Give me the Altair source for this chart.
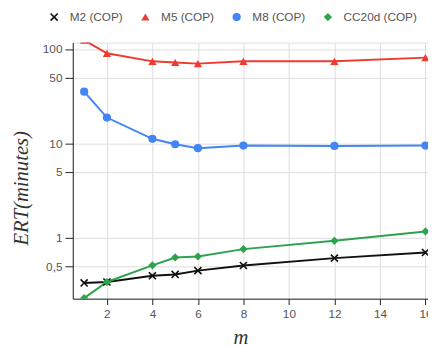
import altair as alt
import pandas as pd

m_values = [1, 2, 4, 5, 6, 8, 12, 16]
series_names = ["M2 (COP)", "M5 (COP)", "M8 (COP)", "CC20d (COP)"]
m2 = [0.333, 0.341, 0.397, 0.41, 0.45, 0.51, 0.61, 0.70]
m5 = [124, 90, 74, 72, 70, 74, 74, 81]
m8 = [35.3, 18.8, 11.2, 9.8, 8.9, 9.5, 9.4, 9.5]
cc20d = [0.23, 0.341, 0.512, 0.62, 0.635, 0.76, 0.93, 1.17]
x_ticks = [2, 4, 6, 8, 10, 12, 14, 16]
y_ticks = [0.5, 1, 5, 10, 50, 100]

rows = []
for name, vals in zip(series_names, [m2, m5, m8, cc20d]):
    for m, v in zip(m_values, vals):
        rows.append({"m": m, "ERT": v, "series": name})
df = pd.DataFrame(rows)

colors = ["#111111", "#ee3a30", "#4285f4", "#2ea34f"]
xshape = "M-1,-0.72L-0.72,-1L0,-0.28L0.72,-1L1,-0.72L0.28,0L1,0.72L0.72,1L0,0.28L-0.72,1L-1,0.72L-0.28,0Z"
shapes = [xshape, "triangle-up", "circle", "diamond"]

color_scale = alt.Scale(domain=series_names, range=colors)
shape_scale = alt.Scale(domain=series_names, range=shapes)
size_scale = alt.Scale(domain=series_names, range=[70, 70, 80, 55])

x_enc = alt.X("m:Q", scale=alt.Scale(domain=[0.5, 16.5], range=[0, 371], nice=False, zero=False),
              axis=alt.Axis(values=x_ticks, title="m", titleFont="Liberation Serif",
                            titleFontStyle="italic", titleFontWeight="normal", titleFontSize=21,
                            titleColor="#333", titleX=171, titleY=40, titleBaseline="middle",
                            labelFont="Liberation Sans", labelFontSize=12, labelColor="#555",
                            domainColor="#222", tickColor="#222", tickSize=6, labelPadding=4,
                            gridColor="#dddddd", labelFlush=False))
y_enc = alt.Y("ERT:Q", scale=alt.Scale(type="log", domain=[0.227, 117], nice=False),
              axis=alt.Axis(values=y_ticks, title="ERT(minutes)", titleFont="Liberation Serif",
                            titleFontStyle="italic", titleFontWeight="normal", titleFontSize=21,
                            titleColor="#333", titleX=-52, titleY=148, titleAngle=-90,
                            titleAlign="center", titleBaseline="middle",
                            labelFont="Liberation Sans", labelFontSize=12, labelColor="#555",
                            labelExpr="replace(datum.label, '.', ',')",
                            domainColor="#222", tickColor="#222", tickSize=8, labelPadding=3,
                            gridColor="#dddddd"))

legend = alt.Legend(title=None, orient="none", direction="horizontal", legendX=-25, legendY=-32,
                    labelFont="Liberation Sans", labelFontSize=12, labelColor="#555",
                    labelOffset=10, columnPadding=17, symbolSize=70, symbolStrokeWidth=0)

lines = alt.Chart(df).mark_line(strokeWidth=2, clip=True).encode(
    x=x_enc, y=y_enc,
    color=alt.Color("series:N", scale=color_scale, legend=legend, sort=series_names),
    detail="series:N",
)

points = alt.Chart(df).mark_point(filled=True, opacity=1, clip=True).encode(
    x=x_enc, y=y_enc,
    color=alt.Color("series:N", scale=color_scale, legend=legend, sort=series_names),
    shape=alt.Shape("series:N", scale=shape_scale, legend=legend, sort=series_names),
    size=alt.Size("series:N", scale=size_scale, legend=None),
)

chart = alt.layer(lines, points).properties(
    width=362, height=261,
    autosize=alt.AutoSizeParams(type="none"),
    padding={"left": 66, "top": 32, "right": 0, "bottom": 45},
).configure_view(stroke=None).configure(background="white")

chart.save("out.html", embed_options={"renderer": "svg", "actions": False})
